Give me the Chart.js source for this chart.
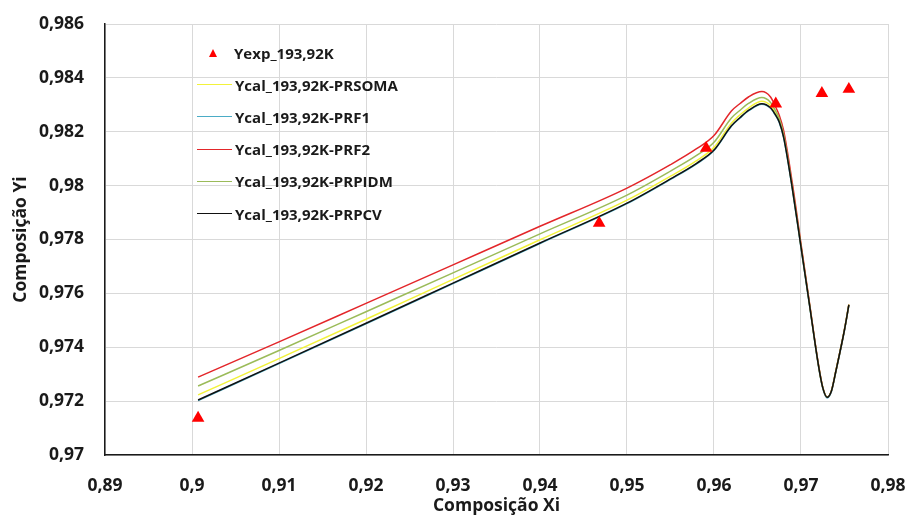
<!DOCTYPE html>
<html>
<head>
<meta charset="utf-8">
<script src="https://cdn.jsdelivr.net/npm/chart.js@4.4.0/dist/chart.umd.min.js"></script>
<style>
html, body { margin: 0; padding: 0; background: #fff; }
#wrap { position: relative; width: 909px; height: 518px; }
#legend { position: absolute; left: 0; top: 0; font-family: "Open Sans", sans-serif; font-weight: 700; font-size: 15px; color: #1a1a1a; }
.leg-row { position: absolute; left: 197px; height: 20px; display: flex; align-items: center; white-space: nowrap; }
.leg-line { width: 35px; height: 0; margin-right: 3px; }
.leg-tri { width: 0; height: 0; margin: 0 17px 0 12px; border-left: 4.5px solid transparent; border-right: 4.5px solid transparent; border-bottom: 8px solid #ff0000; }
</style>
</head>
<body>
<div id="wrap">
    <canvas id="myChart" width="909" height="518"></canvas>
    <div id="legend"></div>
</div>
<script>
// x positions of the calculated curves
const xCurve = [0.9007, 0.91, 0.92, 0.93, 0.94, 0.95, 0.955, 0.958, 0.96, 0.962, 0.963, 0.964, 0.9655, 0.9665, 0.967, 0.9675, 0.968, 0.969, 0.970, 0.971, 0.972, 0.9725, 0.973, 0.9735, 0.974, 0.975, 0.9755]

const ySoma = [0.97223, 0.97358, 0.97504, 0.97652, 0.97799, 0.97946, 0.98035, 0.98093, 0.98142, 0.98232, 0.98263, 0.98289, 0.98313, 0.98297, 0.98272, 0.98241, 0.98187, 0.97998, 0.97777, 0.97555, 0.97335, 0.97251, 0.97215, 0.97239, 0.97311, 0.97466, 0.97558]
const yPrf1 = [0.97202, 0.97339, 0.97487, 0.97636, 0.97785, 0.97933, 0.98023, 0.98081, 0.98130, 0.98220, 0.98251, 0.98278, 0.98302, 0.98287, 0.98264, 0.98234, 0.98178, 0.97988, 0.97770, 0.97551, 0.97332, 0.97248, 0.97212, 0.97236, 0.97308, 0.97463, 0.97555]
const yPrf2 = [0.97289, 0.97420, 0.97563, 0.97706, 0.97849, 0.97991, 0.98078, 0.98137, 0.98186, 0.98277, 0.98305, 0.98330, 0.98349, 0.98329, 0.98298, 0.98261, 0.98205, 0.98010, 0.97784, 0.97559, 0.97337, 0.97251, 0.97215, 0.97239, 0.97311, 0.97466, 0.97558]
const yPidm = [0.97256, 0.97388, 0.97532, 0.97676, 0.97821, 0.97965, 0.98054, 0.98112, 0.98161, 0.98251, 0.98280, 0.98306, 0.98327, 0.98309, 0.98282, 0.98249, 0.98190, 0.97995, 0.97775, 0.97555, 0.97335, 0.97251, 0.97215, 0.97239, 0.97311, 0.97466, 0.97558]
const yPrpcv = [0.97204, 0.97341, 0.97489, 0.97638, 0.97787, 0.97935, 0.98025, 0.98083, 0.98132, 0.98222, 0.98253, 0.98280, 0.98304, 0.98289, 0.98266, 0.98236, 0.98180, 0.97990, 0.97772, 0.97553, 0.97334, 0.97250, 0.97214, 0.97238, 0.97310, 0.97465, 0.97557]

// experimental points
const xExp = [0.9007, 0.9468, 0.9591, 0.9671, 0.9724, 0.9755]
const yExp = [0.97137, 0.97861, 0.98139, 0.98304, 0.98343, 0.98358]

const xTickValues = [0.89, 0.90, 0.91, 0.92, 0.93, 0.94, 0.95, 0.96, 0.97, 0.98]
const xTickLabels = ['0,89', '0,9', '0,91', '0,92', '0,93', '0,94', '0,95', '0,96', '0,97', '0,98']
const yTickValues = [0.970, 0.972, 0.974, 0.976, 0.978, 0.980, 0.982, 0.984, 0.986]
const yTickLabels = ['0,97', '0,972', '0,974', '0,976', '0,978', '0,98', '0,982', '0,984', '0,986']

const seriesNames = ['Yexp_193,92K', 'Ycal_193,92K-PRSOMA', 'Ycal_193,92K-PRF1', 'Ycal_193,92K-PRF2', 'Ycal_193,92K-PRPIDM', 'Ycal_193,92K-PRPCV']
const seriesColors = ['#ff0000', '#f2f23a', '#4bacc6', '#e3262a', '#9bbb59', '#111111']

const ctx = document.getElementById('myChart')
const legend = document.getElementById('legend')

function curve(arr) {
    return xCurve.map((x, i) => ({ x: x, y: arr[i] }))
}

function lineSet(idx, arr, order) {
    return {
        label: seriesNames[idx],
        data: curve(arr),
        borderColor: seriesColors[idx],
        borderWidth: 1.5,
        pointRadius: 0,
        cubicInterpolationMode: 'monotone',
        order: order
    }
}

const tickFont = { family: '"Open Sans", sans-serif', size: 17.5, weight: 'bold' }
const titleFont = { family: '"Open Sans", sans-serif', size: 17.5, weight: 'bold' }

const chart = new Chart(ctx, {
    type: 'line',
    data: {
        datasets: [
            {
                label: seriesNames[0],
                data: xExp.map((x, i) => ({ x: x, y: yExp[i] })),
                showLine: false,
                pointStyle: 'triangle',
                pointRadius: 7.3,
                pointBackgroundColor: seriesColors[0],
                pointBorderColor: seriesColors[0],
                pointBorderWidth: 0,
                order: 0
            },
            lineSet(1, ySoma, 5),
            lineSet(2, yPrf1, 4),
            lineSet(3, yPrf2, 3),
            lineSet(4, yPidm, 2),
            lineSet(5, yPrpcv, 1)
        ]
    },
    options: {
        responsive: false,
        animation: false,
        devicePixelRatio: 1,
        layout: { padding: { top: 24, right: 21, left: 0, bottom: 0 } },
        plugins: { legend: { display: false }, tooltip: { enabled: false } },
        scales: {
            x: {
                type: 'linear',
                min: 0.89,
                max: 0.98,
                afterBuildTicks: s => { s.ticks = xTickValues.map(v => ({ value: v })) },
                afterFit: s => { s.height = 63; s.paddingLeft = 0; s.paddingRight = 0 },
                ticks: {
                    autoSkip: false, maxRotation: 0, padding: 21,
                    color: '#1a1a1a', font: tickFont,
                    callback: (v, i) => xTickLabels[i]
                },
                grid: { color: '#d9d9d9', drawTicks: false },
                border: { color: '#1a1a1a', width: 1.5 },
                title: { display: true, text: 'Composição Xi', color: '#1a1a1a', font: titleFont, padding: { top: 0, bottom: 1 } }
            },
            y: {
                type: 'linear',
                min: 0.97,
                max: 0.986,
                afterBuildTicks: s => { s.ticks = yTickValues.map(v => ({ value: v })) },
                afterFit: s => { s.width = 105; s.paddingTop = 0; s.paddingBottom = 0 },
                ticks: {
                    autoSkip: false, padding: 21,
                    color: '#1a1a1a', font: tickFont,
                    callback: (v, i) => yTickLabels[i]
                },
                grid: { color: '#d9d9d9', drawTicks: false },
                border: { color: '#1a1a1a', width: 1.5 },
                title: { display: true, text: 'Composição Yi', color: '#1a1a1a', font: titleFont, padding: { top: 11, bottom: 0 } }
            }
        }
    }
})

// legend inside the plot, same order as the series
let kod = ''
seriesNames.forEach((name, i) => {
    const top = 42.5 + i * 32.2
    const mark = i == 0
        ? `<span class="leg-tri"></span>`
        : `<span class="leg-line" style="border-top:1.5px solid ${seriesColors[i]}"></span>`
    kod += `<div class="leg-row" style="top:${top}px">${mark}<span>${name}</span></div>`
})
legend.innerHTML = kod
</script>
</body>
</html>
